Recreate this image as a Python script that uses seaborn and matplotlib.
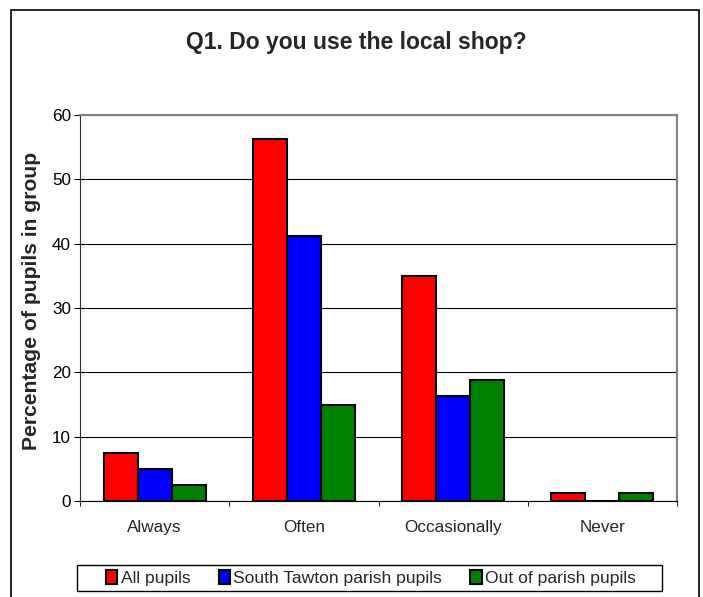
import matplotlib
matplotlib.use("Agg")
import matplotlib.pyplot as plt
import matplotlib.patches as mpatches
import pandas as pd
import seaborn as sns

categories = ["Always", "Often", "Occasionally", "Never"]
groups = ["All pupils", "South Tawton parish pupils", "Out of parish pupils"]
all_pupils = [7.5, 56.25, 35.0, 1.25]
south_tawton = [5.0, 41.25, 16.25, 0.0]
out_of_parish = [2.5, 15.0, 18.75, 1.25]
colours = ["#FF0000", "#0000FF", "#008000"]

df = pd.DataFrame({
    "answer": categories * 3,
    "group": [groups[0]] * 4 + [groups[1]] * 4 + [groups[2]] * 4,
    "pct": all_pupils + south_tawton + out_of_parish,
})

sns.set_style("white")
plt.rcParams["font.family"] = ["Liberation Sans", "DejaVu Sans"]

W, H = 703, 597
fig = plt.figure(figsize=(W / 100, H / 100), dpi=100)
ax = fig.add_axes([80 / W, 96 / H, 597 / W, 386 / H])

sns.barplot(data=df, x="answer", y="pct", hue="group", order=categories,
            hue_order=groups, palette=colours, width=0.684, gap=0,
            edgecolor="black", linewidth=1.5, saturation=1, legend=False, ax=ax)

ax.set_ylim(0, 60)
ax.set_xlim(-0.5, 3.5)
ax.set_yticks(range(0, 61, 10))
ax.yaxis.grid(True, color="black", linewidth=0.8)
ax.set_axisbelow(True)
ax.tick_params(axis="y", direction="out", length=4.5, width=0.8, colors="black",
               labelsize=12.3, left=True, pad=2)
ax.tick_params(axis="x", which="major", length=0, labelsize=12.3, pad=14)
ax.set_xticks([-0.5, 0.5, 1.5, 2.5, 3.5], minor=True)
ax.tick_params(axis="x", which="minor", direction="out", length=3.6, width=0.8,
               bottom=True)
for side in ["top", "right"]:
    ax.spines[side].set_color("#808080")
    ax.spines[side].set_linewidth(1.5)
ax.spines["left"].set_color("#303030")
ax.spines["bottom"].set_color("black")
ax.set_xlabel("")
ax.set_ylabel("")

fig.text(32 / W, 1 - 301 / H, "Percentage of pupils in group", rotation=90,
         ha="center", va="center", fontsize=15.2, fontweight="bold")
fig.text(356 / W, 1 - 43 / H, "Q1. Do you use the local shop?", ha="center",
         va="center", fontsize=16.5, fontweight="bold")

# outer chart border
fig.patches.append(mpatches.Rectangle((11 / W, -0.05), 688 / W, 1.05 - 10 / H,
                                      transform=fig.transFigure, fill=False,
                                      edgecolor="black", linewidth=1.2))

# legend box
fig.patches.append(mpatches.Rectangle((77 / W, 1 - 591 / H), 585 / W, 26 / H,
                                      transform=fig.transFigure, fill=False,
                                      edgecolor="black", linewidth=1.0))
handles = [mpatches.Patch(facecolor=c, edgecolor="black", linewidth=1.5) for c in colours]
leg = fig.legend(handles, groups, loc="center", bbox_to_anchor=(371 / W, 1 - 578 / H),
                 ncol=3, frameon=False, fontsize=12.6, handlelength=0.65,
                 handleheight=0.8, handletextpad=0.2, columnspacing=1.6,
                 borderpad=0)

fig.savefig("out.png", dpi=100)
